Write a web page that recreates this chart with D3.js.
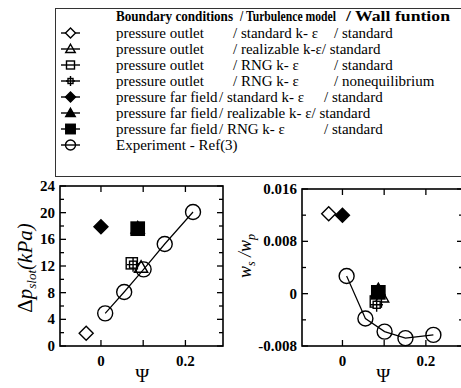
<!DOCTYPE html>
<html>
  <head>
    <meta charset="utf-8" />
    <script src="https://d3js.org/d3.v7.min.js"></script>
    <style>
      body { margin: 0; background: #fff; }
    </style>
  </head>
  <body>
    <svg id="chart" width="461" height="388"></svg>
    <script>
      // Datos
      const boundary = ["pressure outlet", "pressure outlet", "pressure outlet", "pressure outlet",
        "pressure far field", "pressure far field", "pressure far field"];
      const turbulence = ["standard k- ε", "realizable k-ε", "RNG k- ε", "RNG k- ε",
        "standard k- ε", "realizable k- ε", "RNG k- ε"];
      const wallFunction = ["standard", "standard", "standard", "nonequilibrium",
        "standard", "standard", "standard"];
      const shapes = ["diamond", "triangle", "square", "plus", "diamond", "triangle", "square"];
      const filled = [false, false, false, false, true, true, true];

      const casePsiL = [-0.035, 0.095, 0.073, 0.076, 0.0, 0.087, 0.087];
      const caseDp = [1.9, 11.8, 12.4, 12.2, 17.9, 17.7, 17.6];
      const casePsiR = [-0.033, 0.095, 0.080, 0.082, 0.0, 0.086, 0.086];
      const caseWs = [0.0122, -0.0005, -0.0012, -0.0017, 0.0120, 0.0006, 0.0002];

      const expPsi = [0.01, 0.055, 0.101, 0.151, 0.218];
      const expDp = [4.9, 8.1, 11.5, 15.3, 20.1];
      const expWs = [0.0027, -0.0038, -0.0058, -0.0068, -0.0063];

      const dpTicks = [0, 4, 8, 12, 16, 20, 24];
      const wsTicks = [-0.008, 0, 0.008, 0.016];
      const psiTicks = [0, 0.2];

      const svg = d3.select("#chart");
      const FONT = '"Liberation Serif"';

      // Dibuja un marcador en (x, y)
      function marker(g, shape, isFilled, x, y, s) {
        const fill = isFilled ? "#000" : "none";
        const m = g.append("g").attr("transform", `translate(${x},${y})`);
        if (shape === "diamond") {
          m.append("path").attr("d", `M0,${-s}L${s},0L0,${s}L${-s},0Z`)
            .attr("fill", isFilled ? "#000" : "#fff");
        } else if (shape === "triangle") {
          const h = s * 0.95;
          m.append("path").attr("d", `M0,${-h}L${h},${h * 0.75}L${-h},${h * 0.75}Z`).attr("fill", fill);
        } else if (shape === "square") {
          const a = isFilled ? s * 0.95 : s * 0.8;
          m.append("rect").attr("x", -a).attr("y", -a).attr("width", 2 * a).attr("height", 2 * a).attr("fill", fill);
        } else if (shape === "plus") {
          const a = s * 0.5;
          m.append("rect").attr("x", -a).attr("y", -a).attr("width", 2 * a).attr("height", 2 * a).attr("fill", "#fff");
          m.append("path").attr("d", `M0,${-s}V${s}M${-s * 0.9},0H${s * 0.9}`);
        } else if (shape === "circle") {
          m.append("circle").attr("r", s).attr("fill", "none");
        }
        m.selectAll("path,rect,circle").attr("stroke", "#000").attr("stroke-width", 1.4);
      }

      // Leyenda
      const leg = svg.append("g");
      leg.append("rect").attr("x", 55.5).attr("y", 8.5).attr("width", 430).attr("height", 168)
        .attr("fill", "none").attr("stroke", "#333").attr("stroke-width", 1);
      const header = leg.append("text").attr("y", 21).attr("font-size", 14).attr("font-weight", "bold");
      header.append("tspan").attr("x", 116).attr("textLength", 117).attr("lengthAdjust", "spacingAndGlyphs")
        .text("Boundary conditions");
      header.append("tspan").attr("x", 240).attr("textLength", 96).attr("lengthAdjust", "spacingAndGlyphs")
        .text("/ Turbulence model");
      header.append("tspan").attr("x", 346).attr("textLength", 104).attr("lengthAdjust", "spacingAndGlyphs")
        .text("/ Wall funtion");

      const rowY = (i) => 33 + 16 * i;
      boundary.forEach((b, i) => {
        const y = rowY(i);
        leg.append("line").attr("x1", 61).attr("x2", 80).attr("y1", y).attr("y2", y)
          .attr("stroke", "#000").attr("stroke-width", 1.4);
        marker(leg, shapes[i], filled[i], 70.5, y, 5);
        const far = b.indexOf("far") >= 0;
        leg.append("text").attr("x", 116).attr("y", y + 5).attr("font-size", 15).text(b);
        const t2 = leg.append("text").attr("x", far ? 219 : 233).attr("y", y + 5).attr("font-size", 15)
          .style("font-family", FONT).text("/ " + turbulence[i]);
        let wx;
        if (turbulence[i].indexOf("realizable") >= 0) {
          wx = (far ? 219 : 233) + t2.node().getComputedTextLength();
        } else {
          wx = far ? 324 : 334;
        }
        leg.append("text").attr("x", wx).attr("y", y + 5).attr("font-size", 15).text("/ " + wallFunction[i]);
      });
      {
        const y = rowY(7);
        leg.append("line").attr("x1", 61).attr("x2", 80).attr("y1", y).attr("y2", y)
          .attr("stroke", "#000").attr("stroke-width", 1.4);
        marker(leg, "circle", false, 70.5, y, 5);
        leg.append("text").attr("x", 116).attr("y", y + 5).attr("font-size", 15).text("Experiment - Ref(3)");
      }

      // Panel generico
      function panel(cfg) {
        const g = svg.append("g");
        const x = d3.scaleLinear().domain([-0.097, 0.289]).range([cfg.left, cfg.right]);
        const y = d3.scaleLinear().domain(cfg.yDomain).range([cfg.bottom, cfg.top]);

        // ticks hacia dentro
        const tk = g.append("g").attr("stroke", "#000").attr("stroke-width", 1.3);
        d3.range(0, 0.3, 0.1).forEach((v) => {
          tk.append("line").attr("x1", x(v)).attr("x2", x(v)).attr("y1", cfg.bottom).attr("y2", cfg.bottom - 6);
          tk.append("line").attr("x1", x(v)).attr("x2", x(v)).attr("y1", cfg.top).attr("y2", cfg.top + 6);
        });
        cfg.minorY.forEach((v, i) => {
          const len = i % 2 === 0 ? 6 : 4;
          tk.append("line").attr("x1", cfg.left).attr("x2", cfg.left + len).attr("y1", y(v)).attr("y2", y(v));
          tk.append("line").attr("x1", cfg.right).attr("x2", cfg.right - len).attr("y1", y(v)).attr("y2", y(v));
        });

        g.append("rect").attr("x", cfg.left).attr("y", cfg.top)
          .attr("width", cfg.right - cfg.left).attr("height", cfg.bottom - cfg.top)
          .attr("fill", "none").attr("stroke", "#000").attr("stroke-width", 1.6);

        cfg.yTicks.forEach((v) => {
          g.append("text").attr("x", cfg.left - 5).attr("y", y(v) + 5).attr("text-anchor", "end")
            .attr("font-size", 15).attr("font-weight", "bold").text(cfg.fmt(v));
        });
        psiTicks.forEach((v) => {
          g.append("text").attr("x", x(v)).attr("y", cfg.bottom + 20).attr("text-anchor", "middle")
            .attr("font-size", 15).attr("font-weight", "bold").text(v === 0 ? "0" : v);
        });
        g.append("text").attr("x", x(0.098)).attr("y", 382).attr("text-anchor", "middle")
          .attr("font-size", 19).text("Ψ");

        // experimento
        g.append("path").datum(expPsi.map((p, i) => [p, cfg.exp[i]]))
          .attr("d", d3.line().x((d) => x(d[0])).y((d) => y(d[1])))
          .attr("fill", "none").attr("stroke", "#000").attr("stroke-width", 1.2);
        expPsi.forEach((p, i) => marker(g, "circle", false, x(p), y(cfg.exp[i]), 7.5));

        // casos CFD
        shapes.forEach((s, i) => marker(g, s, filled[i], x(cfg.psi[i]), y(cfg.vals[i]), 7));
        return g;
      }

      panel({
        left: 60, right: 223, top: 186, bottom: 346,
        yDomain: [0, 24], yTicks: dpTicks, minorY: d3.range(0, 25, 2),
        fmt: (v) => v, exp: expDp, psi: casePsiL, vals: caseDp,
      });
      panel({
        left: 302, right: 463, top: 189, bottom: 346,
        yDomain: [-0.008, 0.016], yTicks: wsTicks, minorY: d3.range(-0.008, 0.0161, 0.004),
        fmt: (v) => (v === 0 ? "0" : d3.format(".3f")(v).replace("−", "-")), exp: expWs, psi: casePsiR, vals: caseWs,
      });

      // etiquetas de ejes Y
      const yl = svg.append("text").attr("transform", "translate(32,268) rotate(-90)")
        .attr("text-anchor", "middle").attr("font-size", 21).attr("font-style", "italic");
      yl.append("tspan").attr("font-style", "normal").text("Δ");
      yl.append("tspan").text("p");
      yl.append("tspan").attr("font-size", 13).attr("dy", 4).text("slot");
      yl.append("tspan").attr("dy", -4).text("(kPa)");

      const yr = svg.append("text").attr("transform", "translate(251,256) rotate(-90)")
        .attr("text-anchor", "middle").attr("font-size", 18).attr("font-style", "italic");
      yr.append("tspan").text("w");
      yr.append("tspan").attr("font-size", 12).attr("dy", 4).text("s");
      yr.append("tspan").attr("dy", -4).text(" /w");
      yr.append("tspan").attr("font-size", 12).attr("dy", 4).text("p");

      // Tipografia
      svg.selectAll("text").style("font-family", FONT);
    </script>
  </body>
</html>
